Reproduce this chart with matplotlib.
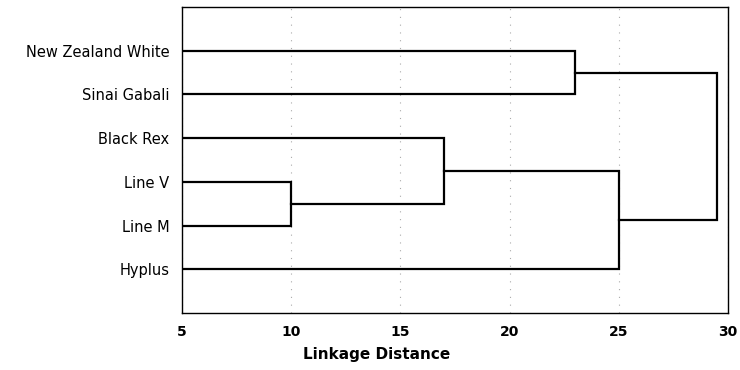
import matplotlib
matplotlib.use("Agg")
import matplotlib.pyplot as plt

# Leaves in display order (top to bottom)
labels = ["New Zealand White", "Sinai Gabali", "Black Rex", "Line V", "Line M", "Hyplus"]
# Merges: (left cluster id, right cluster id, linkage distance); new clusters numbered 6, 7, ...
merge_a = [3, 2, 0, 7, 8]
merge_b = [4, 6, 1, 5, 9]
merge_dist = [10.0, 17.0, 23.0, 25.0, 29.5]
xticks = [5, 10, 15, 20, 25, 30]
x_min = 5

fig = plt.figure(figsize=(7.4, 3.7), dpi=100)
ax = fig.add_axes([182/740, 1-313/370, (728-182)/740, (313-7)/370])

pos = {i: i + 1 for i in range(len(labels))}
hgt = {i: x_min for i in range(len(labels))}
for k, (a, b, d) in enumerate(zip(merge_a, merge_b, merge_dist)):
    new = len(labels) + k
    ya, yb = pos[a], pos[b]
    ax.plot([hgt[a], d, d, hgt[b]], [ya, ya, yb, yb], color="black", lw=1.6,
            solid_joinstyle="miter", zorder=3)
    pos[new] = (ya + yb) / 2
    hgt[new] = d

ax.set_xlim(5, 30)
ax.set_ylim(7, 0)
ax.set_yticks(range(1, len(labels) + 1))
ax.set_yticklabels(labels, fontsize=10.5, family="DejaVu Sans")
ax.set_xticks(xticks)
ax.set_xticklabels([str(t) for t in xticks], fontsize=10, fontweight="bold")
ax.tick_params(axis="y", length=0, pad=9)
ax.tick_params(axis="x", length=0, pad=9)
ax.grid(axis="x", linestyle=(0, (1, 6)), color="#aaaaaa", lw=0.8)
for s in ax.spines.values():
    s.set_linewidth(1.0)

fig.text(377/740, 1-355/370, "Linkage Distance", ha="center", va="center",
         fontsize=11, fontweight="bold")

fig.savefig("out.png", dpi=100)
